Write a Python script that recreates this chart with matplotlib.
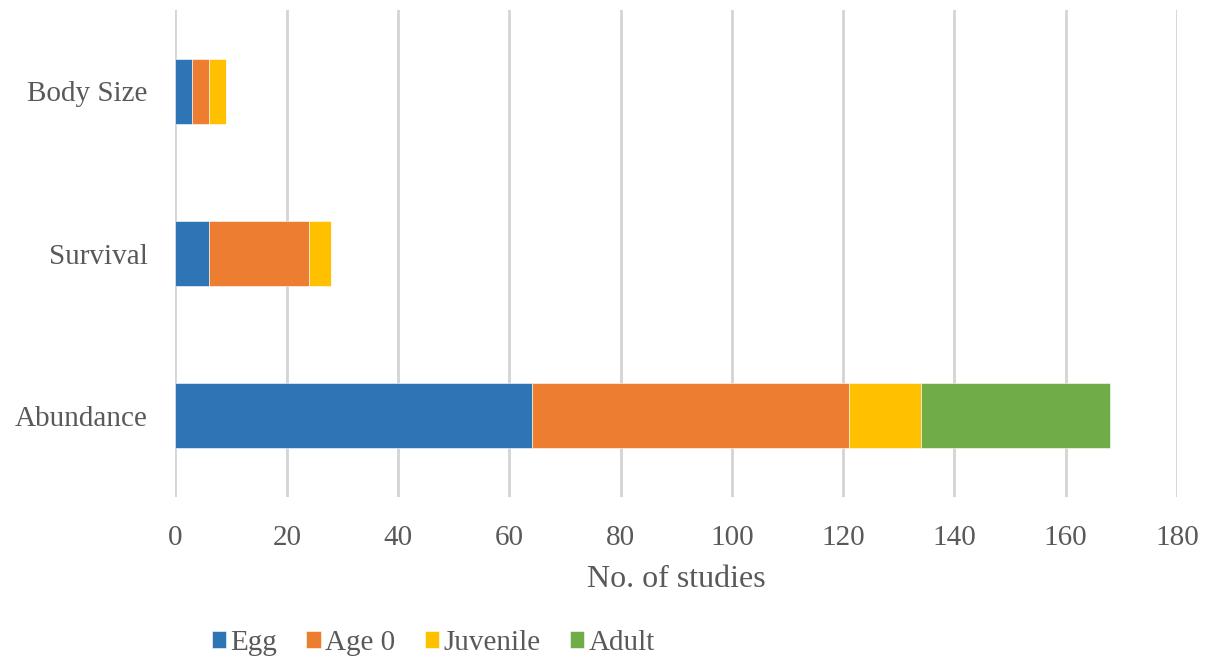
import matplotlib
matplotlib.use("Agg")
import matplotlib.pyplot as plt
import numpy as np

# Study counts by response type and life stage
categories = ["Abundance", "Survival", "Body Size"]
stages = ["Egg", "Age 0", "Juvenile", "Adult"]
egg = [64, 6, 3]
age0 = [57, 18, 3]
juvenile = [13, 4, 3]
adult = [34, 0, 0]
colors = ["#2E75B6", "#ED7D31", "#FFC000", "#70AD47"]
xticks = [0, 20, 40, 60, 80, 100, 120, 140, 160, 180]

text_color = "#595959"
plt.rcParams["font.family"] = ["Liberation Serif", "DejaVu Serif"]

fig = plt.figure(figsize=(12.07, 6.62), dpi=100)
ax = fig.add_axes([0.1454, 0.2492, 0.8297, 0.7357])

y = np.arange(len(categories))
left = np.zeros(len(categories))
for name, vals, c in zip(stages, [egg, age0, juvenile, adult], colors):
    vals = np.array(vals, dtype=float)
    ax.barh(y, vals, left=left, height=0.4, color=c, label=name,
            edgecolor="white", linewidth=0.4, zorder=3)
    left += vals

ax.set_xlim(0, 180)
ax.set_ylim(-0.5, 2.5)
ax.set_xticks(xticks)
ax.set_yticks(y)
ax.set_yticklabels(categories)
ax.grid(axis="x", color="#d4d4d4", linewidth=2.0, zorder=0)
ax.set_axisbelow(True)
for s in ax.spines.values():
    s.set_visible(False)
ax.tick_params(axis="both", length=0, colors=text_color, labelsize=21)
ax.tick_params(axis="x", pad=20)
ax.tick_params(axis="y", pad=20)
ax.set_xlabel("No. of studies", fontsize=23, color=text_color, labelpad=10)

handles, labels = ax.get_legend_handles_labels()
leg = fig.legend(handles, labels, loc="center", bbox_to_anchor=(0.359, 0.029),
                 ncol=4, frameon=False, fontsize=21, handlelength=0.5,
                 handleheight=0.5, handletextpad=0.15, columnspacing=1.0)
for t in leg.get_texts():
    t.set_color(text_color)

fig.savefig("out.png", dpi=100)
